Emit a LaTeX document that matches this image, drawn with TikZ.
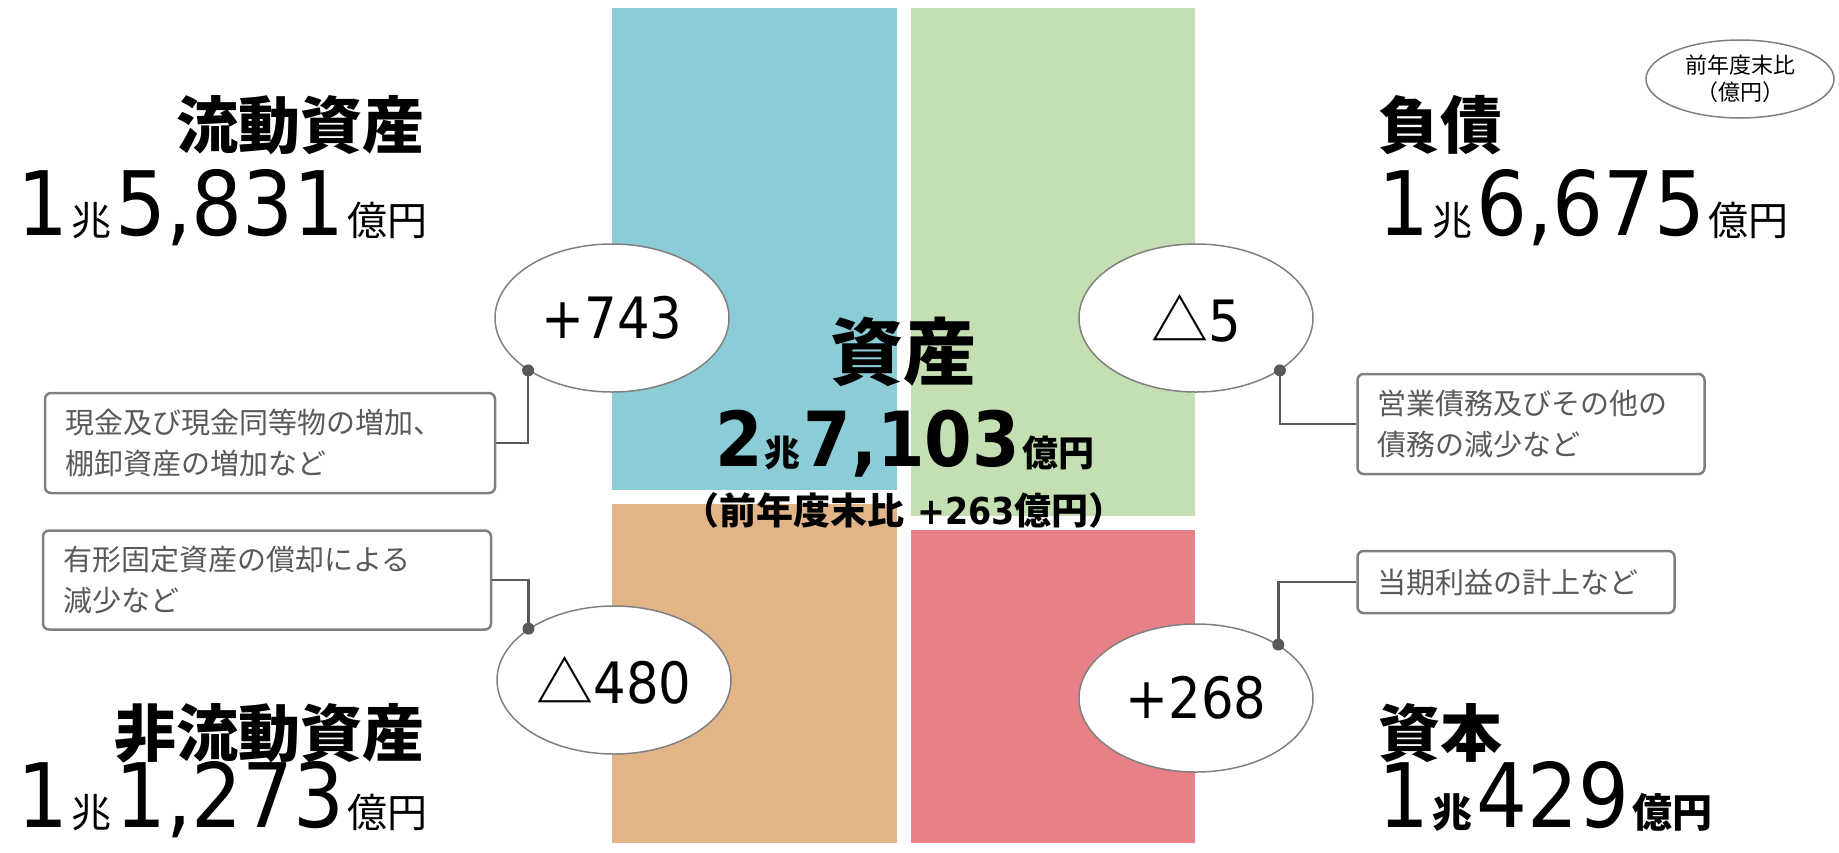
\documentclass[tikz,border=0pt]{standalone}
\usepackage{fontspec}
\setmainfont{Noto Sans CJK JP}
\newfontfamily\jpblack{Noto Sans CJK JP Black}
\newfontfamily\numf[FakeStretch=0.9]{DejaVu Sans}
\newfontfamily\numbf[FakeStretch=0.9]{DejaVu Sans}
\usetikzlibrary{shapes.geometric}
\newcommand\setfs[1]{\fontsize{#1pt}{#1pt}\selectfont}
\newcommand\setfsl[2]{\fontsize{#1pt}{#2pt}\selectfont}
\newcommand\kch[1]{\hspace{3pt}{\rmfamily\setfs{40}#1}\hspace{4pt}}
\newcommand\kchb[1]{\hspace{3pt}{\rmfamily\bfseries\setfs{40}#1}\hspace{4pt}}
\definecolor{cblue}{RGB}{139,204,214}
\definecolor{cgreen}{RGB}{196,223,178}
\definecolor{corange}{RGB}{226,181,136}
\definecolor{cred}{RGB}{232,128,136}
\definecolor{outl}{RGB}{128,128,128}
\definecolor{connc}{RGB}{89,89,89}
\definecolor{notec}{RGB}{89,89,89}
\tikzset{
  bub/.style={ellipse, draw=outl, line width=1.5pt, fill=white, inner sep=0pt,
    minimum width=234pt, minimum height=148pt},
  note/.style={draw=outl, line width=2.5pt, rounded corners=6pt, fill=white,
    inner xsep=20pt, inner ysep=0pt, align=left, text=notec,
    font=\setfsl{29}{41}},
  conn/.style={draw=connc, line width=2.5pt},
  dotm/.style={fill=connc},
  head/.style={inner sep=0pt, font=\jpblack\setfs{62}},
  amt/.style={inner sep=0pt},
}
\begin{document}
\begin{tikzpicture}[x=1pt,y=-1pt]
\useasboundingbox (0,0) rectangle (1839,852);
% blocks
\fill[cblue] (612,8) rectangle (897,490);
\fill[cgreen] (911,8) rectangle (1195,516);
\fill[corange] (612,504) rectangle (897,843);
\fill[cred] (911,530) rectangle (1195,843);

% centre labels
\node[inner sep=0pt, font=\jpblack\setfs{73}] (c1) at (903,352) {資産};
\node[amt, anchor=base] (c2) at (905,466) {\numbf\bfseries\setfs{76}2\hspace{2pt}{\rmfamily\bfseries\setfs{36}兆}\hspace{3pt}7,103\hspace{3pt}{\rmfamily\bfseries\setfs{36}億円}};
\node[inner sep=0pt, font=\bfseries\setfs{37}] (c3) at (904,510) {（前年度末比\hspace{0.35em}{\numbf\bfseries +263}億円）};

% change bubbles
\node[bub] (e1) at (612,318) {\numf\setfs{57}+743};
\node[bub] (e2) at (1196,318) {\setfs{57}△\numf 5};
\node[bub] (e3) at (614,680) {\setfs{57}△\numf 480};
\node[bub] (e4) at (1196,698) {\numf\setfs{57}+268};
\node[ellipse, draw=outl, line width=1.5pt, fill=white, inner sep=0pt,
  minimum width=188pt, minimum height=78pt, align=center,
  font=\setfsl{22}{27}] (legend) at (1740,79) {前年度末比\\（億円）};

% side headings
\node[head, anchor=east] (t1) at (425,125) {流動資産};
\node[amt, anchor=base east] (n1) at (428,235) {\numf\setfs{89}1\kch{兆}5,831\kch{億円}};
\node[head, anchor=east] (t2) at (425,733) {非流動資産};
\node[amt, anchor=base east] (n2) at (428,827) {\numf\setfs{89}1\kch{兆}1,273\kch{億円}};
\node[head, anchor=west] (t3) at (1378,125) {負債};
\node[amt, anchor=base west] (n3) at (1378,235) {\numf\setfs{89}1\kch{兆}6,675\kch{億円}};
\node[head, anchor=west] (t4) at (1378,733) {資本};
\node[amt, anchor=base west] (n4) at (1378,827) {\numf\setfs{89}1\kchb{兆}429\kchb{億円}};

% notes
\node[note, text width=410pt, minimum height=100pt] (b1) at (270,443) {現金及び現金同等物の増加、\\棚卸資産の増加など};
\node[note, text width=408pt, minimum height=99pt] (b2) at (267,580) {有形固定資産の償却による\\減少など};
\node[note, text width=307pt, minimum height=100pt] (b3) at (1531,424) {営業債務及びその他の\\債務の減少など};
\node[note, text width=277pt, minimum height=62pt] (b4) at (1516,582) {当期利益の計上など};

% connectors
\coordinate (d1) at (e1.212);
\coordinate (d2) at (e3.149);
\coordinate (d3) at (e2.328);
\coordinate (d4) at (e4.33);
\draw[conn] (b1.east) -| (d1);
\draw[conn] (b2.east) -| (d2);
\draw[conn] (d3) |- (b3.west);
\draw[conn] (d4) |- (b4.west);
\foreach \d in {d1,d2,d3,d4} \fill[dotm] (\d) circle (6pt);
\end{tikzpicture}
\end{document}
